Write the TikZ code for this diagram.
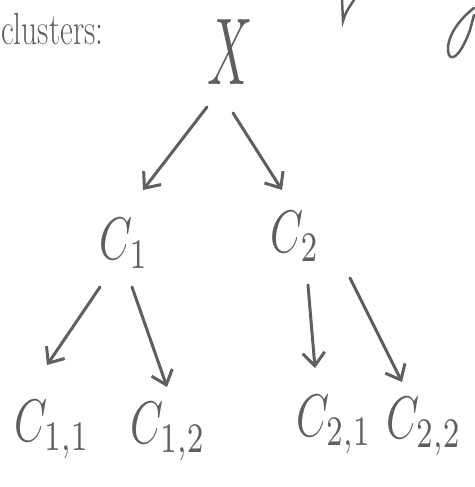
\documentclass[tikz,border=0pt]{standalone}
\usepackage{fontspec}
\usetikzlibrary{arrows.meta,calc}
\definecolor{pencil}{HTML}{5F5F5F}
\newcommand{\tallsym}[3]{\scalebox{#1}[#2]{#3}}
\begin{document}
\begin{tikzpicture}[
    x=1pt,
    y=-1pt,
    lab/.style={
        text=pencil,
        inner sep=0pt
    },
    arrow/.style={
        -{Straight Barb[length=13pt,width=22pt,line width=3pt]},
        line width=3pt,
        draw=pencil,
        line cap=round
    }
]
    \useasboundingbox (0,0) rectangle (474,487);

    % Kopf
    \node[lab, anchor=west, font=\fontsize{30}{34}\selectfont] (title) at (1,29) {\tallsym{1.05}{1.5}{clusters:}};
    \node[lab] (x) at (230,52) {\tallsym{5}{9.5}{$X$}};

    % erste Ebene
    \node[lab] (c1) at (124,243) {\tallsym{4.2}{6}{$C_1$}};
    \node[lab] (c2) at (295,236) {\tallsym{4.2}{6}{$C_2$}};

    % zweite Ebene
    \node[lab] (c11) at (52,430) {\tallsym{4.2}{6}{$C_{1,1}$}};
    \node[lab] (c12) at (168,432) {\tallsym{4.2}{6}{$C_{1,2}$}};
    \node[lab] (c21) at (334,425) {\tallsym{4.2}{6}{$C_{2,1}$}};
    \node[lab] (c22) at (424,427) {\tallsym{4.2}{6}{$C_{2,2}$}};

    % Pfeile
    \draw[arrow] ($(x)+(-23,55)$) -- ($(c1)+(19,-53)$);
    \draw[arrow] ($(x)+(3,61)$) -- ($(c2)+(-13,-46)$);
    \draw[arrow] ($(c1)+(-24,44)$) -- ($(c11)+(-5,-65)$);
    \draw[arrow] ($(c1)+(8,44)$) -- ($(c12)+(-1,-45)$);
    \draw[arrow] ($(c2)+(13,49)$) -- ($(c21)+(-19,-57)$);
    \draw[arrow] ($(c2)+(55,42)$) -- ($(c22)+(-22,-45)$);

    % abgeschnittene Striche oben rechts
    \draw[pencil, line width=2.5pt, line cap=round] (342,0) -- (343,21) .. controls (346,12) .. (354,0);
    \draw[pencil, line width=2.5pt, line cap=round] (474,8) .. controls (452,25) and (445,45) .. (449,55)
        .. controls (453,62) and (462,52) .. (470,30) -- (474,15);
\end{tikzpicture}
\end{document}
